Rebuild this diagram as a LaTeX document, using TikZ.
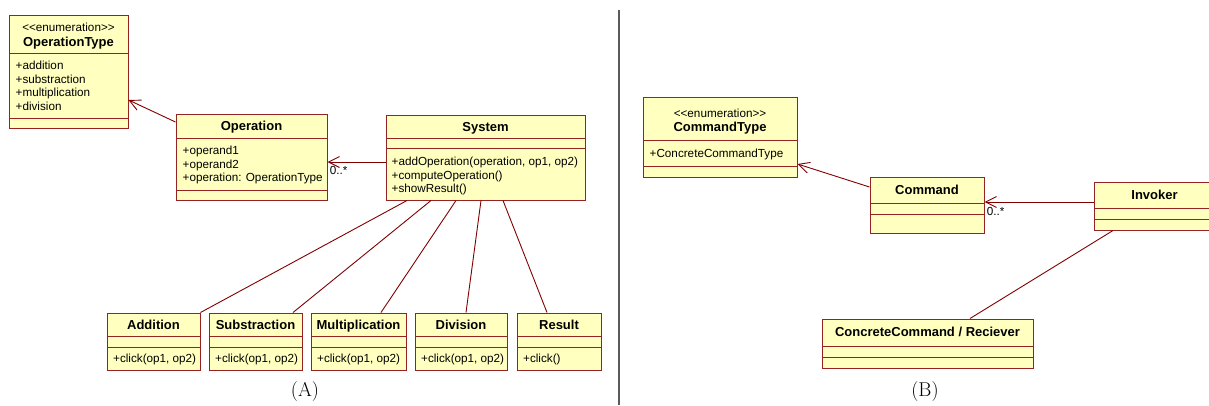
\documentclass[tikz,border=0pt]{standalone}
\usepackage{fontspec}
\newfontfamily\umlfont{Liberation Sans}
\usetikzlibrary{arrows.meta}

\definecolor{classfill}{RGB}{255,255,192}
\definecolor{classline}{RGB}{150,35,35}
\definecolor{assocline}{RGB}{128,0,0}
\definecolor{divider}{RGB}{90,90,90}

\newcommand{\memberfont}{\fontsize{11.7}{13}\umlfont}
\newcommand{\titlefont}{\fontsize{13}{15}\umlfont\bfseries}

% class box: name, x1, y1, x2, y2, first and second divider
\newcommand{\umlclass}[7]{%
  \node[classbox, minimum width={#4-#2}, minimum height={#5-#3}] (#1) at ({(#2+#4)/2},{(#3+#5)/2}) {};
  \draw[classline, line width=1pt] (#2,#6) -- (#4,#6) (#2,#7) -- (#4,#7);
}
% member lines: prefix, x, y of first line, list
\newcommand{\members}[4]{%
  \foreach \mbr [count=\k from 0] in {#4}
    \node[member] (#1\k) at (#2,{#3+13.8*\k}) {\mbr};
}

\begin{document}
\begin{tikzpicture}[x=1pt,y=-1pt,
    classbox/.style={draw=classline, fill=classfill, line width=1pt, inner sep=0pt},
    member/.style={font=\memberfont, anchor=west, inner sep=0pt, text height=8.4pt, text depth=0pt},
    stereo/.style={member, anchor=center},
    title/.style={font=\titlefont, inner sep=0pt, text height=9.3pt, text depth=0pt},
    mult/.style={font=\memberfont, anchor=north west, inner sep=0pt},
    caption/.style={font=\fontsize{20}{23}\selectfont, inner sep=0pt}]
  \useasboundingbox (0,0) rectangle (1209,405);

  % (A) calculator
  \umlclass{optype}{9}{15}{128}{128}{53}{118}
  \node[stereo] (optypeS) at (68.5,27) {<\kern0pt<enumeration>\kern0pt>};
  \node[title] (optypeT) at (68.5,42) {OperationType};
  \members{optypeA}{15.5}{65}{+addition,+substraction,+multiplication,+division}

  \umlclass{op}{176}{114}{327}{200}{138}{190}
  \node[title] (opT) at (251.5,126) {Operation};
  \members{opA}{182.5}{150}{+operand1,+operand2,+operation: OperationType}

  \umlclass{sys}{386}{115}{585}{200}{138}{148}
  \node[title] (sysT) at (485.5,127) {System};
  \members{sysO}{391.5}{161}{{+addOperation(operation, op1, op2)},+computeOperation(),+showResult()}

  \umlclass{add}{107}{313}{200}{370}{336}{347}
  \node[title] (addT) at (153.5,324.5) {Addition};
  \members{addO}{113}{358.5}{{+click(op1, op2)}}

  \umlclass{sub}{209}{313}{302}{370}{336}{347}
  \node[title] (subT) at (255.5,324.5) {Substraction};
  \members{subO}{215}{358.5}{{+click(op1, op2)}}

  \umlclass{mul}{311}{313}{406}{370}{336}{347}
  \node[title] (mulT) at (358.5,324.5) {Multiplication};
  \members{mulO}{317}{358.5}{{+click(op1, op2)}}

  \umlclass{div}{415}{313}{507}{370}{336}{347}
  \node[title] (divT) at (461,324.5) {Division};
  \members{divO}{421}{358.5}{{+click(op1, op2)}}

  \umlclass{res}{517}{313}{601}{370}{336}{347}
  \node[title] (resT) at (559,324.5) {Result};
  \members{resO}{523}{358.5}{+click()}

  % (B) command pattern
  \umlclass{cmdtype}{643}{97}{797}{177}{140}{166}
  \node[stereo] (cmdtypeS) at (720,113) {<\kern0pt<enumeration>\kern0pt>};
  \node[title] (cmdtypeT) at (720,127) {CommandType};
  \members{cmdtypeA}{649.5}{153}{+ConcreteCommandType}

  \umlclass{cmd}{870}{177}{984}{233}{203}{214}
  \node[title] (cmdT) at (927,190) {Command};

  \umlclass{inv}{1094}{182}{1215}{230}{208}{219}
  \node[title] (invT) at (1154.5,195) {Invoker};

  \umlclass{conc}{822}{319}{1033}{368}{346}{357}
  \node[title] (concT) at (927.5,332) {ConcreteCommand / Reciever};

  \begin{scope}[>={Straight Barb[length=11pt,width=11pt]},every edge/.style={draw=assocline,line width=0.9pt}]
    \path[->] ([yshift=35pt]op.west) edge ([yshift=-28.5pt]optype.east);
    \path[->] ([yshift=-4.5pt]sys.west) edge node[mult,pos=1,xshift=2pt,yshift=-3.5pt] {0..*} ([yshift=-5pt]op.east);
    \path ([xshift=-78.5pt]sys.south) edge (add.north east);
    \path ([xshift=-54.5pt]sys.south) edge ([xshift=37.5pt]sub.north);
    \path ([xshift=-29.5pt]sys.south) edge ([xshift=22.5pt]mul.north);
    \path ([xshift=-4.5pt]sys.south) edge ([xshift=5pt]div.north);
    \path ([xshift=17.5pt]sys.south) edge ([xshift=-12pt]res.north);
    \path[->] ([yshift=18pt]cmd.west) edge ([yshift=-27pt]cmdtype.east);
    \path[->] ([yshift=4pt]inv.west) edge node[mult,pos=1,xshift=2pt,yshift=-4.5pt] {0..*} ([yshift=3pt]cmd.east);
    \path ([xshift=-41.5pt]inv.south) edge ([xshift=42.5pt]conc.north);
  \end{scope}

  \draw[divider, line width=1.2pt] (619,10) -- (619,405);
  \node[caption] (capA) at (305,392) {(A)};
  \node[caption] (capB) at (925,392) {(B)};
\end{tikzpicture}
\end{document}
